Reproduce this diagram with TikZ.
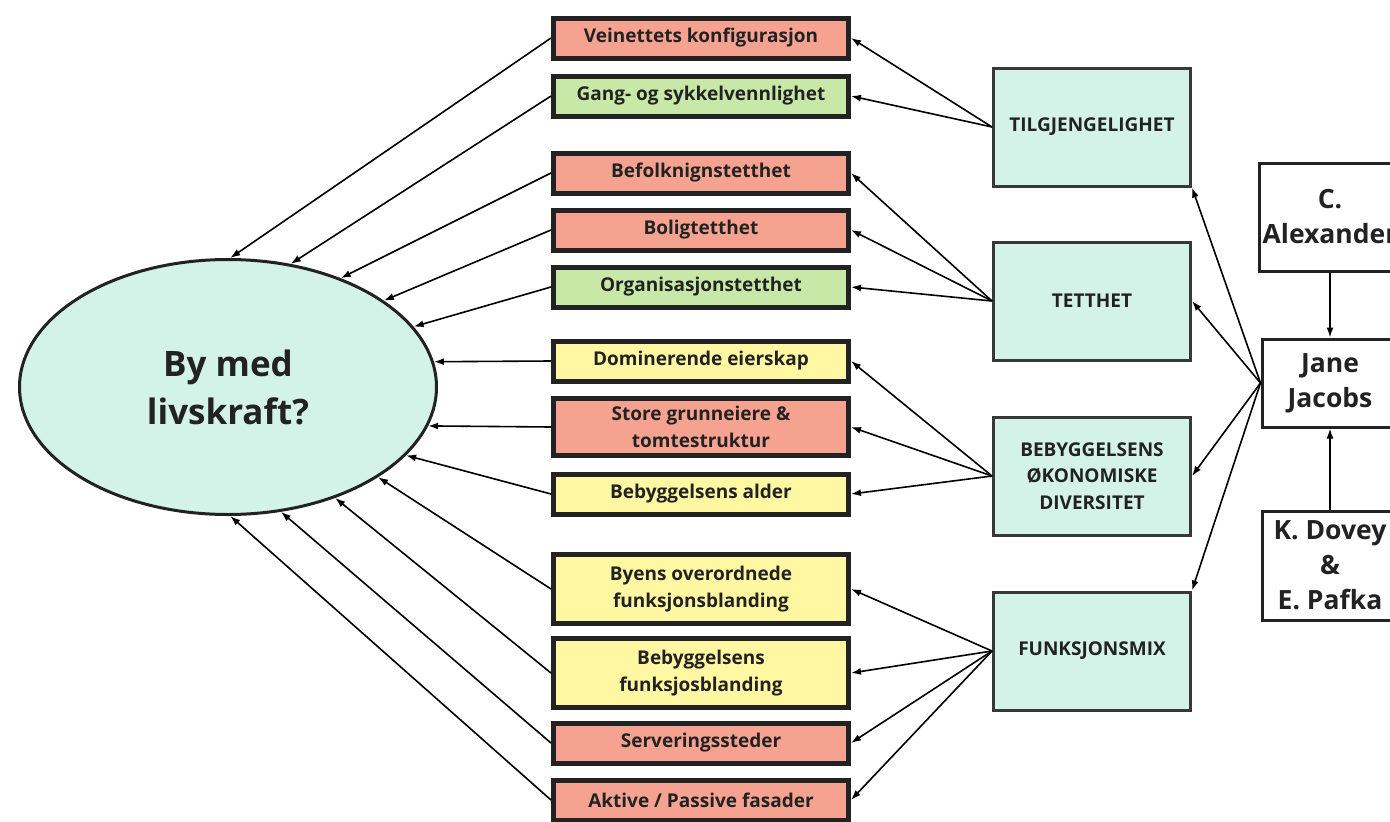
\documentclass[tikz,border=0pt]{standalone}
\usepackage{fontspec}
\setmainfont{Open Sans}
\usetikzlibrary{positioning,arrows.meta,shapes.geometric}

\definecolor{ink}{HTML}{222222}
\definecolor{salmon}{HTML}{F5A291}
\definecolor{leaf}{HTML}{C7E8A6}
\definecolor{lemon}{HTML}{FFF7A1}
\definecolor{mint}{HTML}{D3F3E8}

\tikzset{
  factor/.style={draw=ink, line width=5pt, minimum width=295pt, minimum height=40pt, inner sep=0pt, align=center, text=ink, font=\bfseries\fontsize{19}{27}\selectfont},
  theme/.style={draw=ink!90, line width=3pt, fill=mint, minimum width=197pt, minimum height=118pt, align=center, text=ink, font=\bfseries\fontsize{19}{26.5}\selectfont},
  source/.style={draw=ink, line width=3pt, fill=white, minimum width=136pt, align=center, text=ink, font=\bfseries\fontsize{26.5}{35}\selectfont},
  link/.style={-{Latex[length=10pt,width=7pt]}, line width=1.6pt, black},
}

\begin{document}
\begin{tikzpicture}[x=1pt,y=-1pt]
\useasboundingbox (0,0) rectangle (1390,822);

% the question in the middle of it all
\node[ellipse, draw=ink, line width=3pt, fill=mint, minimum width=417pt, minimum height=255pt, align=center, text=ink, font=\bfseries\fontsize{35}{48}\selectfont] (city) at (228,387) {By med\\livskraft?};

% factors
\node[factor, fill=salmon] (veinett) at (701,38) {Veinettets konfigurasjon};
\node[factor, fill=leaf] (gang) at (701,96) {Gang- og sykkelvennlighet};
\node[factor, fill=salmon] (befolk) at (701,173) {Befolknignstetthet};
\node[factor, fill=salmon] (bolig) at (701,230) {Boligtetthet};
\node[factor, fill=leaf] (org) at (701,287) {Organisasjonstetthet};
\node[factor, fill=lemon] (eierskap) at (701,361) {Dominerende eierskap};
\node[factor, fill=salmon, minimum height=57pt] (grunn) at (701,427) {Store grunneiere \&\\tomtestruktur};
\node[factor, fill=lemon] (alder) at (701,494) {Bebyggelsens alder};
\node[factor, fill=lemon, minimum height=69pt] (byens) at (701,589) {Byens overordnede\\funksjonsblanding};
\node[factor, fill=lemon, minimum height=69pt] (bebfunk) at (701,673) {Bebyggelsens\\funksjosblanding};
\node[factor, fill=salmon] (server) at (701,743) {Serveringssteder};
\node[factor, fill=salmon] (fasade) at (701,800) {Aktive / Passive fasader};

% themes
\node[theme] (tilgj) at (1092,127) {TILGJENGELIGHET};
\node[theme] (tett) at (1092,301) {TETTHET};
\node[theme] (divers) at (1092,476) {BEBYGGELSENS\\ØKONOMISKE\\DIVERSITET};
\node[theme] (mix) at (1092,651) {FUNKSJONSMIX};

% authors
\node[source, minimum height=88pt] (jacobs) at (1330,383) {Jane\\Jacobs};
\node[source, minimum height=108pt, above=65pt of jacobs] (alex) {C.\\Alexander};
\node[source, minimum height=109pt, below=81pt of jacobs] (dovey) {K. Dovey\\\&\\E. Pafka};

\draw[link] (alex) -- (jacobs);
\draw[link] (dovey) -- (jacobs);
\draw[link] (jacobs.west) -- (tilgj.south east);
\draw[link] (jacobs.west) -- (tett.east);
\draw[link] (jacobs.west) -- (divers.east);
\draw[link] (jacobs.west) -- (mix.north east);

% themes to factors
\draw[link] (tilgj.west) -- (veinett.east);
\draw[link] (tilgj.west) -- (gang.east);
\draw[link] (tett.west) -- (befolk.east);
\draw[link] (tett.west) -- (bolig.east);
\draw[link] (tett.west) -- (org.east);
\draw[link] (divers.west) -- (eierskap.east);
\draw[link] (divers.west) -- (grunn.east);
\draw[link] (divers.west) -- (alder.east);
\draw[link] (mix.west) -- (byens.east);
\draw[link] (mix.west) -- (bebfunk.east);
\draw[link] (mix.west) -- (server.east);
\draw[link] (mix.west) -- (fasade.east);

% factors to the ellipse
\draw[link] (veinett.west) -- (city.89);
\draw[link] (gang.west) -- (city.63);
\draw[link] (befolk.west) -- (city.44);
\draw[link] (bolig.west) -- (city.29);
\draw[link] (org.west) -- (city.18);
\draw[link] (eierskap.west) -- (city.7);
\draw[link] (grunn.west) -- (city.-11);
\draw[link] (alder.west) -- (city.-21);
\draw[link] (byens.west) -- (city.-31);
\draw[link] (bebfunk.west) -- (city.-46);
\draw[link] (server.west) -- (city.-67);
\draw[link] (fasade.west) -- (city.-89);
\end{tikzpicture}
\end{document}
